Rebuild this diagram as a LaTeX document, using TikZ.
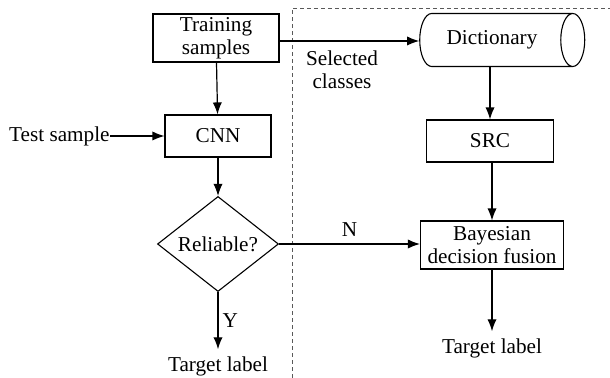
\documentclass[tikz,border=0pt]{standalone}
\usepackage{fontspec}
\setmainfont{Liberation Serif}
\usetikzlibrary{shapes.geometric, arrows.meta, positioning}

\begin{document}
\begin{tikzpicture}[
    % Đơn vị: 1 đơn vị = 0.5pt, trục y hướng xuống
    x=0.5pt, y=-0.5pt,
    font=\fontsize{10.6}{11.5}\selectfont,
    % Hộp xử lý
    box/.style={draw, line width=0.55pt, align=center, inner sep=1pt},
    % Hình thoi quyết định
    decide/.style={draw, diamond, line width=0.55pt, inner sep=0pt, minimum width=60.5pt, minimum height=37pt},
    % Cơ sở dữ liệu (hình trụ)
    store/.style={draw, cylinder, line width=0.55pt, aspect=0.75, minimum width=26.5pt, minimum height=82.5pt},
    % Mũi tên nối
    flow/.style={draw, line width=0.6pt, -{Latex[length=6pt,width=4.6pt]}},
    % Đường phân cách nét đứt
    divider/.style={draw, gray!70!black, line width=0.4pt, dash pattern=on 2pt off 1.5pt}
]
\useasboundingbox (0,0) rectangle (610,378);

% Nhánh trái (CNN)
\node[box, minimum width=63pt, minimum height=24pt] (train) at (216,38) {Training\\samples};
\node[box, minimum width=53pt, minimum height=21pt] (cnn) at (218,136) {CNN};
\node[anchor=east, inner sep=0pt] (test) at (110,136) {Test sample};
\node[decide] (rel) at (218,244) {Reliable?};
\node (outl) at (218,366) {Target label};

% Nhánh phải (SRC)
\node[store] (dict) at (492,40) {Dictionary};
\node[box, minimum width=63.5pt, minimum height=21pt] (src) at (490,141) {SRC};
\node[box, minimum width=71.5pt, minimum height=24pt] (fuse) at (492,245) {Bayesian\\decision fusion};
\node (outr) at (492,348) {Target label};
\node[align=center] (sel) at (342,70) {Selected\\classes};

% Đường nét đứt
\coordinate (dtop) at (292,8);
\coordinate (dbot) at (292,378);
\coordinate (dright) at (610,8);
\path[divider] (dbot) -- (dtop) -- (dright);

% Các mũi tên
\path[flow] (train) -- (cnn);
\path[flow] (test) -- (cnn);
\path[flow] (cnn) -- (rel);
\path[flow] (rel.south) -- node[right, inner sep=2pt] {Y} (outl.north);
\path[flow] (rel.east) -- node[above] {N} (rel.east -| fuse.west);
\path[flow] (train.east |- 0,41) -- (dict.west |- 0,41);
\path[flow] (dict.south -| src.north) -- (src.north);
\path[flow] (src.south -| fuse.north) -- (fuse.north);
\path[flow] (fuse) -- (outr);

\end{tikzpicture}
\end{document}
